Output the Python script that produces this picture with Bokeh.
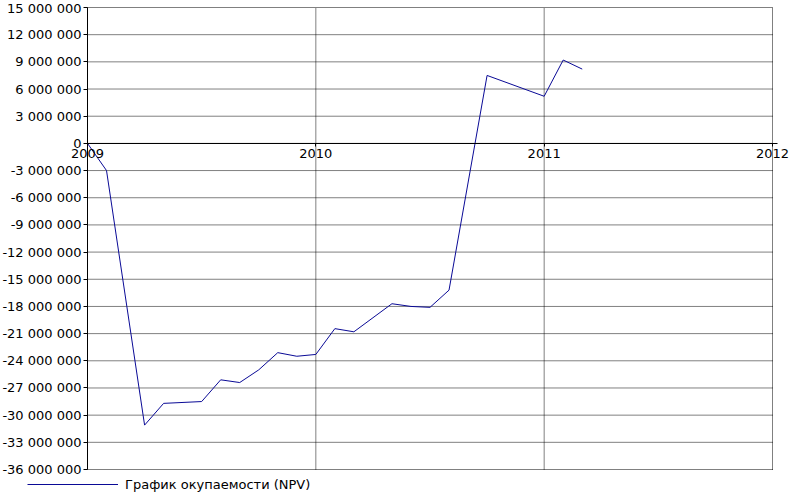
from bokeh.plotting import figure
from bokeh.models import (Range1d, FixedTicker, Legend, LegendItem, ColumnDataSource)
from bokeh.embed import file_html
from bokeh.resources import INLINE

# ---- data ----
months = [0, 1, 3, 4, 6, 7, 8, 9, 10, 11, 12, 13, 14, 16, 17, 18, 19, 21, 24, 25, 26]
npv_millions = [0.0, -3.0, -31.1, -28.7, -28.5, -26.1, -26.4, -25.0, -23.1, -23.5, -23.3,
                -20.45, -20.8, -17.7, -18.0, -18.1, -16.2, 7.5, 5.2, 9.2, 8.2]
start_year = 2009
series_name = "График окупаемости (NPV)"

x_ticks = [2009, 2010, 2011, 2012]
y_ticks = [15000000, 12000000, 9000000, 6000000, 3000000, 0, -3000000, -6000000,
           -9000000, -12000000, -15000000, -18000000, -21000000, -24000000,
           -27000000, -30000000, -33000000, -36000000]
y_tick_labels = ["15 000 000", "12 000 000", "9 000 000", "6 000 000", "3 000 000", "0",
                 "-3 000 000", "-6 000 000", "-9 000 000", "-12 000 000", "-15 000 000",
                 "-18 000 000", "-21 000 000", "-24 000 000", "-27 000 000",
                 "-30 000 000", "-33 000 000", "-36 000 000"]

x_lo, x_hi = x_ticks[0], x_ticks[-1]
y_lo, y_hi = min(y_ticks), max(y_ticks)

src = ColumnDataSource(dict(
    x=[start_year + m / 12.0 for m in months],
    y=[v * 1e6 for v in npv_millions],
))

FONT = "DejaVu Sans"
FS = "13px"

# ---- layout (pixels) ----
W, H = 789, 497
plot_left, plot_right = 87, 772      # figure px of first / last year
plot_top, plot_bottom = 7, 469       # figure px of top / bottom tick
xs = (plot_right - plot_left) / (x_hi - x_lo)
ys = (plot_bottom - plot_top) / (y_hi - y_lo)
x_range = Range1d(x_lo - plot_left / xs, x_hi + (W - plot_right) / xs)
y_range = Range1d(y_lo - (H - plot_bottom) / ys, y_hi + plot_top / ys)

p = figure(width=W, height=H, x_range=x_range, y_range=y_range,
           output_backend="svg", toolbar_location=None,
           min_border_left=0, min_border_right=0, min_border_top=0, min_border_bottom=0)
p.outline_line_color = None
p.background_fill_color = "white"
p.border_fill_color = "white"
p.xgrid.visible = False
p.ygrid.visible = False

# dotted grid built from tick arrays
grid_y = [t for t in y_ticks]
p.segment(x0=[x_lo] * len(grid_y), x1=[x_hi] * len(grid_y), y0=grid_y, y1=grid_y,
          line_color="black", line_width=1, line_dash="1 1")
grid_x = x_ticks[1:]
p.segment(x0=grid_x, x1=grid_x, y0=[y_lo] * len(grid_x), y1=[y_hi] * len(grid_x),
          line_color="black", line_width=1, line_dash="1 1")

r = p.line("x", "y", source=src, line_color="#0a0a96", line_width=1)

xa = p.xaxis[0]
xa.fixed_location = 0
xa.bounds = (x_lo, x_hi + 5 / xs)
xa.ticker = FixedTicker(ticks=x_ticks)
xa.minor_tick_line_color = None
xa.major_tick_out = 3
xa.major_tick_in = 0
xa.major_label_standoff = 3
xa.axis_line_color = "black"
xa.major_tick_line_color = "black"
xa.major_label_text_font = FONT
xa.major_label_text_font_size = FS
xa.major_label_text_color = "black"

ya = p.yaxis[0]
ya.fixed_location = x_lo
ya.bounds = (y_lo, y_hi)
ya.ticker = FixedTicker(ticks=y_ticks)
ya.major_label_overrides = {t: l for t, l in zip(y_ticks, y_tick_labels)}
ya.minor_tick_line_color = None
ya.major_tick_out = 4
ya.major_tick_in = 0
ya.major_label_standoff = 2
ya.axis_line_color = "black"
ya.major_tick_line_color = "black"
ya.major_label_text_font = FONT
ya.major_label_text_font_size = FS
ya.major_label_text_color = "black"

legend = Legend(items=[LegendItem(label=series_name, renderers=[r])],
                location=(27, 5), orientation="horizontal",
                glyph_width=91, glyph_height=16, label_height=16, label_standoff=7,
                padding=0, spacing=0, margin=0,
                border_line_color=None, background_fill_alpha=0,
                label_text_font=FONT, label_text_font_size=FS, label_text_color="black")
p.add_layout(legend, "center")

open("out.html", "w").write(file_html(p, INLINE))
